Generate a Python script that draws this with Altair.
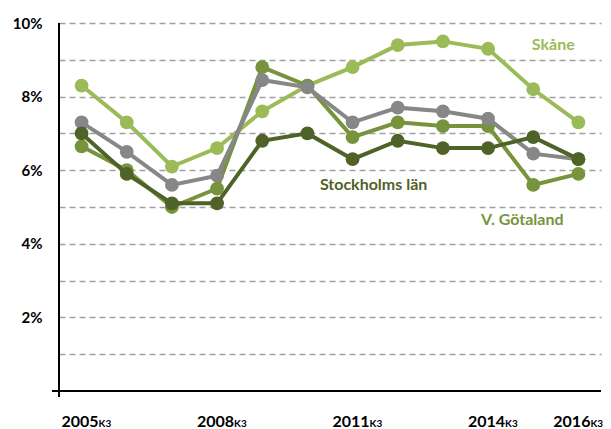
import altair as alt
import pandas as pd

periods = ["2005", "2006", "2007", "2008", "2009", "2010",
           "2011", "2012", "2013", "2014", "2015", "2016"]

skane = [8.3, 7.3, 6.1, 6.6, 7.6, 8.3, 8.8, 9.4, 9.5, 9.3, 8.2, 7.3]
vgotaland = [6.65, 6.0, 5.0, 5.5, 8.8, 8.3, 6.9, 7.3, 7.2, 7.2, 5.6, 5.9]
riket = [7.3, 6.5, 5.6, 5.85, 8.45, 8.25, 7.3, 7.7, 7.6, 7.4, 6.45, 6.3]
stockholm = [7.0, 5.9, 5.1, 5.1, 6.8, 7.0, 6.3, 6.8, 6.6, 6.6, 6.9, 6.3]

series_names = ["Skåne", "V. Götaland", "Riket", "Stockholms län"]
series_values = [skane, vgotaland, riket, stockholm]
series_colors = ["#9BBB59", "#77933C", "#878787", "#4F6228"]

label_names = ["Skåne", "Stockholms län", "V. Götaland"]
label_x = ["2015", "2011", "2015"]
label_y = [9.4, 5.6, 4.65]
label_dx = [20, 21, -11]
label_colors = ["#9BBB59", "#4F6228", "#77933C"]

tick_years = ["2005", "2008", "2011", "2014", "2016"]
tick_dx = [17, 17, 17, 17, 12]
tick_suffix = "K3"

W, H = 542, 368
FONT = "Lato"

xs = alt.X("period:O", scale=alt.Scale(type="point", padding=0.5, domain=periods), axis=None)
yaxis = alt.Axis(values=list(range(1, 11)), domain=False, ticks=False,
                 grid=True, gridDash=[6, 4], gridColor="#A0A0A0", gridWidth=1.6,
                 labelExpr="datum.value % 2 == 0 ? datum.value + '%' : ''",
                 labelFont=FONT, labelFontSize=15, labelFontWeight="bold",
                 labelColor="black", labelPadding=17, title=None)
ys = alt.Y("value:Q", scale=alt.Scale(domain=[0, 10], nice=False), axis=yaxis)

layers = []

for name, vals, col in zip(series_names, series_values, series_colors):
    d = pd.DataFrame({"period": periods, "value": vals, "series": name})
    base = alt.Chart(d)
    layers.append(base.mark_line(color=col, strokeWidth=4).encode(x=xs, y=ys))
    layers.append(base.mark_circle(color=col, size=190, opacity=1).encode(x=xs, y=ys))

# axis lines
one = pd.DataFrame({"a": [0]})
layers.append(alt.Chart(one).mark_rule(color="black", strokeWidth=2).encode(
    x=alt.value(0), y=alt.value(0), y2=alt.value(H + 6)))
layers.append(alt.Chart(one).mark_rule(color="black", strokeWidth=2).encode(
    x=alt.value(-7), x2=alt.value(W), y=alt.value(H)))

# series annotations
ann = pd.DataFrame({"period": label_x, "value": label_y, "name": label_names})
for i in range(len(label_names)):
    layers.append(alt.Chart(ann.iloc[[i]]).mark_text(
        font=FONT, fontSize=16, fontWeight="bold", color=label_colors[i],
        dx=label_dx[i], align="center", baseline="middle").encode(
        x=xs, y=ys, text="name:N"))

# x tick labels with subscript
ticks_df = pd.DataFrame({"period": tick_years, "suffix": [tick_suffix] * len(tick_years)})
for i in range(len(tick_years)):
    row = ticks_df.iloc[[i]]
    layers.append(alt.Chart(row).mark_text(
        font=FONT, fontSize=16, fontWeight="bold", color="black", align="right",
        baseline="alphabetic", dx=tick_dx[i]).encode(x=xs, y=alt.value(H + 36), text="period:N"))
    layers.append(alt.Chart(row).mark_text(
        font=FONT, fontSize=10, fontWeight="bold", color="black", align="left",
        baseline="alphabetic", dx=tick_dx[i]).encode(x=xs, y=alt.value(H + 36), text="suffix:N"))

chart = alt.layer(*layers).properties(
    width=W, height=H,
    autosize=alt.AutoSizeParams(type="none"),
    padding={"left": 51, "top": 15, "right": 2, "bottom": 38},
    background="white",
).configure_view(stroke=None)

chart.save("out.html", embed_options={"renderer": "svg", "actions": False})
